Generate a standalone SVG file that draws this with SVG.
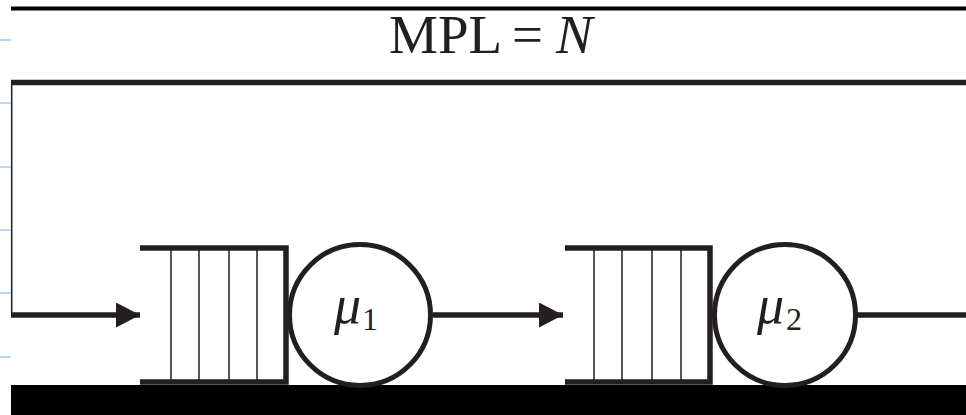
<svg xmlns="http://www.w3.org/2000/svg" width="966" height="415" viewBox="0 0 966 415">
<style>
.thick{stroke:#231f20;stroke-width:5.5;fill:none}
.thin{stroke:#231f20;stroke-width:1.5;fill:none}
.tick{stroke:#9fcdf5;stroke-width:1.5}
.srv{fill:#fff;stroke:#231f20;stroke-width:5}
.t{font-family:'Liberation Serif','Times New Roman',serif;fill:#231f20}
.it{font-style:italic}
</style>
<defs>
<marker id="ah" markerWidth="24" markerHeight="25" refX="24" refY="12.5" orient="auto" markerUnits="userSpaceOnUse">
<path d="M0,0 L24,12.5 L0,25 z" fill="#231f20"/>
</marker>
</defs>
<rect width="966" height="415" fill="#fff"/>
<g id="ticks">
<line class="tick" x1="0" y1="40" x2="11" y2="40"/>
<line class="tick" x1="0" y1="103" x2="11" y2="103"/>
<line class="tick" x1="0" y1="167" x2="11" y2="167"/>
<line class="tick" x1="0" y1="230" x2="11" y2="230"/>
<line class="tick" x1="0" y1="293" x2="11" y2="293"/>
<line class="tick" x1="0" y1="357" x2="11" y2="357"/>
</g>
<rect x="11" y="6.5" width="955" height="4" fill="#000"/>
<rect x="11" y="385" width="955" height="30" fill="#000"/>
<g id="label">
<text class="t" x="389" y="53" font-size="55">MPL</text>
<text class="t" x="512" y="53" font-size="55">=</text>
<text class="t it" x="556" y="53" font-size="55">N</text>
</g>
<g id="connectors">
<line class="thick" x1="11" y1="82.5" x2="966" y2="82.5"/>
<line class="thin" x1="11.7" y1="82" x2="11.7" y2="315"/>
<line class="thick" x1="11" y1="315" x2="140" y2="315" marker-end="url(#ah)"/>
<line class="thick" x1="433" y1="315" x2="563" y2="315" marker-end="url(#ah)"/>
<line class="thick" x1="857" y1="315" x2="966" y2="315"/>
</g>
<g id="queue1">
<polyline class="thick" points="140,248 286,248 286,382 140,382"/>
<line class="thin" x1="171" y1="250" x2="171" y2="380"/>
<line class="thin" x1="199" y1="250" x2="199" y2="380"/>
<line class="thin" x1="229" y1="250" x2="229" y2="380"/>
<line class="thin" x1="257" y1="250" x2="257" y2="380"/>
</g>
<g id="server1">
<circle class="srv" cx="360" cy="315" r="70.5"/>
<text class="t it" x="334" y="323" font-size="54">μ</text>
<text class="t" x="362" y="330" font-size="32">1</text>
</g>
<g id="queue2">
<polyline class="thick" points="565,248 710,248 710,382 565,382"/>
<line class="thin" x1="594" y1="250" x2="594" y2="380"/>
<line class="thin" x1="622" y1="250" x2="622" y2="380"/>
<line class="thin" x1="652" y1="250" x2="652" y2="380"/>
<line class="thin" x1="681" y1="250" x2="681" y2="380"/>
</g>
<g id="server2">
<circle class="srv" cx="785" cy="315" r="70.5"/>
<text class="t it" x="757" y="323" font-size="54">μ</text>
<text class="t" x="786" y="330" font-size="32">2</text>
</g>
</svg>
